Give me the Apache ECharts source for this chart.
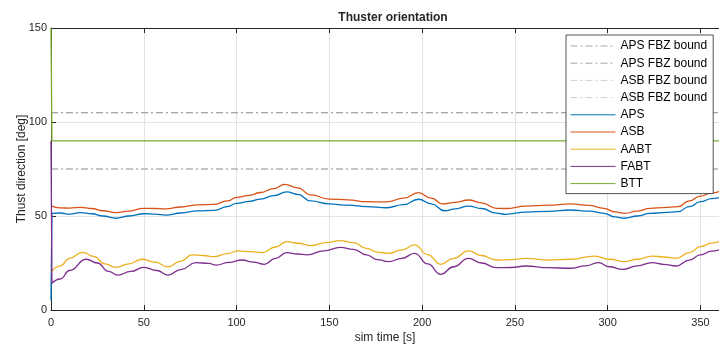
<!DOCTYPE html>
<html>
<head>
<meta charset="utf-8">
<script src="https://cdn.jsdelivr.net/npm/echarts@6/dist/echarts.min.js"></script>
<style>html,body{margin:0;padding:0;background:#fff}#c{width:719px;height:349px}</style>
</head>
<body>
<div id="c"></div>
<script>
// ---- data ----
var xTicks = [0, 50, 100, 150, 200, 250, 300, 350];
var yTicks = [0, 50, 100, 150];
var fbzUpper = 105;
var fbzLower = 75;
var timeEnd = 360;

var apsData = [[0.5,51.4],[5,51.6],[10,51.0],[16,51.8],[22,51.2],[28,50.0],[35,48.8],[42,50.0],[50,51.2],[56,51.0],[62,50.5],[70,51.6],[79,52.7],[88,53.0],[95,55.0],[100,56.7],[107,57.8],[113,59.0],[120,60.8],[127,62.8],[133,61.5],[140,58.0],[150,56.4],[160,55.8],[170,55.0],[181,54.4],[190,56.0],[198,58.9],[205,56.5],[212,52.8],[218,53.8],[225,55.3],[232,54.0],[240,51.5],[245,50.9],[256,52.1],[268,52.5],[280,53.2],[290,52.6],[298,51.4],[304,49.5],[309,48.8],[316,50.0],[323,51.4],[330,51.8],[338,52.3],[344,55.0],[350,57.6],[356,59.2],[360,59.8]];
var asbData = [[0,55.4],[5,54.3],[10,54.2],[16,54.6],[22,54.0],[28,52.8],[35,51.8],[42,52.6],[50,54.1],[56,54.0],[62,53.8],[70,54.8],[79,55.9],[88,56.2],[95,58.0],[100,59.9],[107,61.0],[113,62.5],[120,64.6],[126,66.8],[133,65.0],[140,61.2],[150,59.0],[160,58.6],[170,57.6],[181,57.5],[190,59.5],[198,62.4],[205,59.5],[211,56.4],[218,57.3],[225,58.5],[232,57.0],[240,54.1],[245,54.0],[256,55.3],[268,55.8],[280,56.4],[290,55.6],[298,54.1],[304,52.2],[309,51.4],[316,52.6],[323,54.1],[330,54.5],[338,55.0],[344,58.0],[350,60.6],[356,62.3],[360,63.0]];
var aabtData = [[0,20.0],[5,23.5],[10,27.5],[17,30.7],[23,28.5],[29,24.5],[35,22.7],[42,24.5],[49,27.0],[56,25.5],[63,23.0],[70,26.0],[76,29.3],[82,29.0],[88,28.4],[95,30.0],[101,31.4],[108,31.0],[114,30.5],[121,33.5],[127,36.4],[133,35.5],[140,34.2],[148,35.8],[156,36.9],[163,35.8],[170,32.8],[176,30.8],[182,30.1],[189,32.0],[196,34.6],[203,29.5],[210,24.3],[217,27.5],[225,31.5],[232,29.0],[240,26.6],[248,26.8],[256,27.5],[268,26.6],[280,27.0],[293,28.7],[301,27.0],[309,25.7],[316,27.0],[324,28.7],[330,28.2],[337,27.5],[344,30.5],[350,33.7],[356,35.6],[360,36.4]];
var fabtData = [[0.5,14.2],[5,16.5],[10,21.0],[19,27.0],[25,25.0],[31,20.5],[36,18.6],[43,20.5],[50,22.7],[57,21.0],[63,18.6],[70,21.5],[78,25.2],[85,24.8],[89,23.9],[96,25.3],[103,26.6],[109,25.5],[115,24.3],[121,27.5],[127,30.5],[133,29.8],[138,29.3],[147,31.5],[156,33.3],[163,32.3],[170,29.3],[176,26.8],[182,25.7],[189,27.5],[196,30.1],[203,24.5],[210,19.0],[217,23.0],[225,27.5],[232,25.0],[240,22.5],[248,22.6],[256,23.4],[268,22.5],[280,22.2],[288,23.5],[295,25.2],[301,23.0],[308,21.6],[316,23.5],[324,25.2],[330,24.3],[337,23.4],[344,26.5],[350,29.3],[356,31.3],[360,32.0]];
var apsStart = [[0,5],[0.5,51.4]];
var fabtStart = [[0,90],[0.5,14.2]];
var bttData = [[0,150],[0.5,90],[360,90]];

// ---- chart ----
var FONT = '"Liberation Sans", Arial, Helvetica, sans-serif';
var TXT = '#262626';
var chart = echarts.init(document.getElementById('c'), null, {renderer: 'canvas'});
function bound(name, color, v) {
  return {name: name, type: 'line', symbol: 'none', silent: true,
    data: [[0, v], [timeEnd, v]],
    lineStyle: {color: color, width: 1.2, type: [7, 3, 2, 3]}, itemStyle: {color: color}};
}
function curve(name, color, data, smooth) {
  return {name: name, type: 'line', symbol: 'none', silent: true, data: data,
    smooth: smooth ? 0.5 : false, smoothMonotone: 'x',
    lineStyle: {color: color, width: 1.3}, itemStyle: {color: color}};
}
var names = ['APS FBZ bound', 'APS FBZ bound\u200b', 'ASB FBZ bound', 'ASB FBZ bound\u200b', 'APS', 'ASB', 'AABT', 'FABT', 'BTT'];
var option = {
  animation: false,
  title: {text: 'Thuster orientation', left: 388, top: 7, textAlign: 'center',
    textStyle: {fontFamily: FONT, fontSize: 12, fontWeight: 'bold', color: TXT}},
  grid: {left: 51, top: 28, right: -6, bottom: 39, containLabel: false},
  legend: {
    data: names, orient: 'vertical', left: 566, top: 35,
    itemWidth: 45, itemHeight: 10, itemGap: 3.2,
    padding: [4, 6, 3, 4],
    backgroundColor: '#ffffff', borderColor: TXT, borderWidth: 0.8,
    itemStyle: {opacity: 0},
    lineStyle: {width: 1},
    textStyle: {fontFamily: FONT, fontSize: 12, color: '#000', lineHeight: 14},
    formatter: function (n) { return n.replace(/\u200b/g, ''); },
    selectedMode: false
  },
  xAxis: [{
    type: 'value', min: 0, max: timeEnd, interval: 50,
    name: 'sim time [s]', nameLocation: 'middle', nameGap: 22, nameMoveOverlap: false,
    nameTextStyle: {fontFamily: FONT, fontSize: 12, color: TXT},
    axisLine: {lineStyle: {color: TXT, width: 1}},
    axisTick: {inside: true, length: 5, lineStyle: {color: TXT}},
    axisLabel: {fontFamily: FONT, fontSize: 11, color: TXT, margin: 7, showMaxLabel: false,
      formatter: function (v) { return xTicks.indexOf(v) >= 0 ? String(v) : ''; }},
    splitLine: {show: true, lineStyle: {color: '#e3e3e3', width: 1}}
  }, {
    type: 'value', min: 0, max: timeEnd, interval: 50, position: 'top',
    axisLine: {lineStyle: {color: TXT, width: 1}},
    axisTick: {inside: true, length: 5, lineStyle: {color: TXT}},
    axisLabel: {show: false}, splitLine: {show: false}
  }],
  yAxis: {
    type: 'value', min: 0, max: 150, interval: 50,
    name: 'Thust direction [deg]', nameLocation: 'middle', nameGap: 23, nameMoveOverlap: false,
    nameTextStyle: {fontFamily: FONT, fontSize: 12, color: TXT},
    axisLine: {show: true, lineStyle: {color: TXT, width: 1}},
    axisTick: {show: true, inside: true, length: 5, lineStyle: {color: TXT}},
    axisLabel: {fontFamily: FONT, fontSize: 11, color: TXT, margin: 4,
      formatter: function (v) { return yTicks.indexOf(v) >= 0 ? String(v) : ''; }},
    splitLine: {show: true, lineStyle: {color: '#e3e3e3', width: 1}}
  },
  series: [
    bound(names[2], '#cfcfcf', fbzUpper),
    bound(names[3], '#cfcfcf', fbzLower),
    bound(names[0], '#a6a6a6', fbzUpper),
    bound(names[1], '#a6a6a6', fbzLower),
    curve('APS', '#0072BD', apsData, true),
    curve('_apsStart', '#0072BD', apsStart, false),
    curve('ASB', '#D95319', asbData, true),
    curve('AABT', '#EDB120', aabtData, true),
    curve('FABT', '#7E2F8E', fabtData, true),
    curve('_fabtStart', '#7E2F8E', fabtStart, false),
    curve('BTT', '#77AC30', bttData, false)
  ]
};
chart.setOption(option);
</script>
</body>
</html>
